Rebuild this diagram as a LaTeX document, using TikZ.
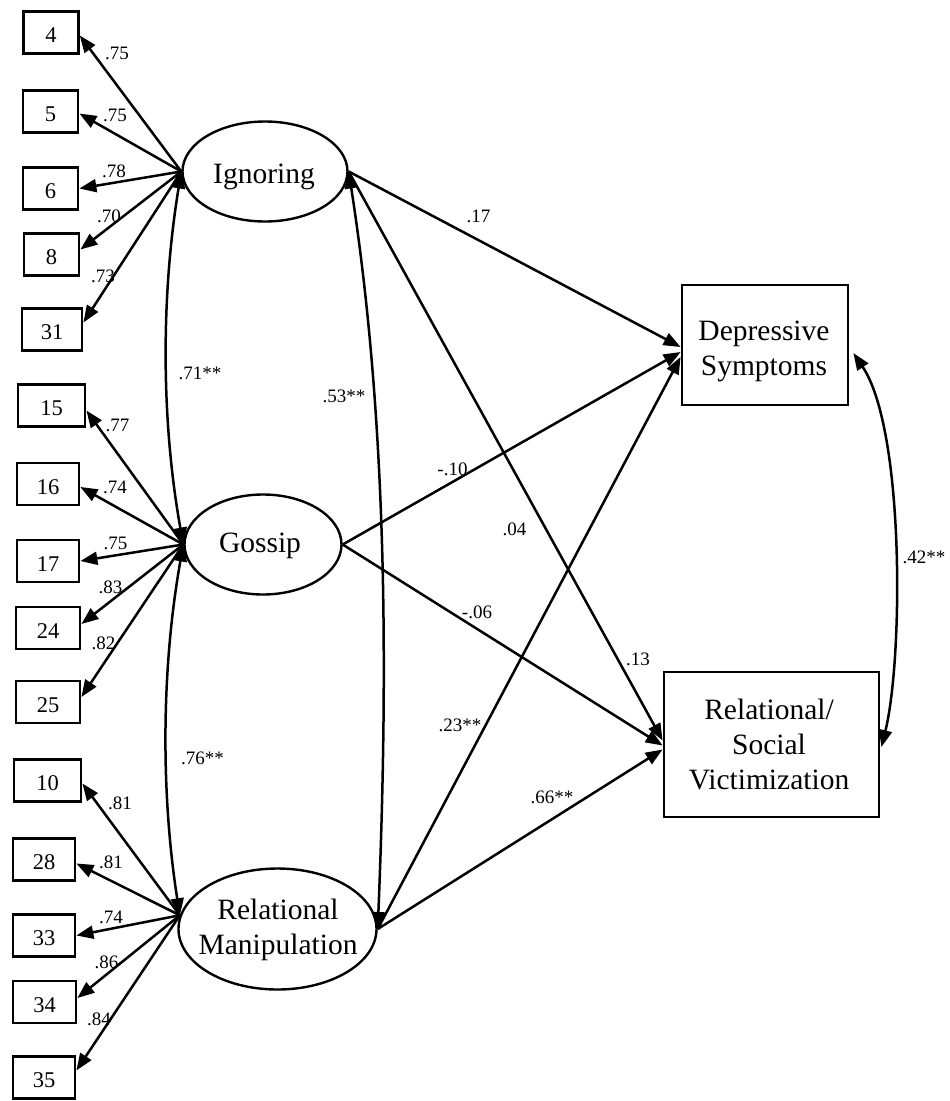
\documentclass[tikz,border=0pt]{standalone}
\usepackage{fontspec}
\setmainfont{Liberation Serif}
\usetikzlibrary{arrows.meta,shapes.geometric,calc}

\tikzset{
  ind/.style={draw, rectangle, line width=2.8pt, inner sep=0pt, minimum height=42pt,
    font=\fontsize{22.5}{26}\selectfont, text height=20pt, text depth=0pt},
  lat/.style={draw, ellipse, line width=2.4pt, inner sep=0pt},
  obs/.style={draw, rectangle, line width=2.8pt, inner sep=0pt},
  big/.style={font=\fontsize{29.5}{35}\selectfont, align=center, inner sep=0pt},
  coef/.style={font=\fontsize{19}{22}\selectfont, inner sep=0pt},
  path/.style={line width=2.5pt, -{Triangle[length=17pt,width=13pt]}},
  cov/.style={line width=2.5pt, {Triangle[length=17pt,width=13pt]}-{Triangle[length=17pt,width=13pt]}},
}

\begin{document}
\begin{tikzpicture}[x=1pt,y=-1pt]
\fill[white] (0,0) rectangle (950,1101);
\useasboundingbox (0,0) rectangle (950,1101);

% latent factors
\node[lat, minimum width=165pt, minimum height=100pt] (ign) at (265,171.5) {};
\node[lat, minimum width=157pt, minimum height=100pt] (goss) at (263,544.5) {};
\node[lat, minimum width=198pt, minimum height=121pt] (rm) at (277.5,929) {};
\node[big, anchor=base] (ign-t) at (264,183) {Ignoring};
\node[big, anchor=base] (goss-t) at (260,552) {Gossip};
\node[big] (rm-t) at (278,929.5) {Relational\\Manipulation};

% outcomes
\node[obs, minimum width=166pt, minimum height=120pt] (ds) at (765,345) {};
\node[obs, minimum width=215pt, minimum height=145pt] (rsv) at (771.5,744.5) {};
\node[big] (ds-t) at (764,351) {Depressive\\Symptoms};
\node[big] (rsv-t) at (769,744) {Relational/\\Social\\Victimization};

% indicator items
\foreach \n/\x/\y/\w in {4/50.9/32.5/55, 5/50.5/111.5/55, 6/50.5/188.5/55, 8/51.5/254.5/55,
    31/52/329.5/60, 15/51.5/405.5/67, 16/48/484/62, 17/48/561/62, 24/48/628/64,
    25/48/702/64, 10/47.5/780.5/67, 28/44/859.5/62, 33/44/935.5/62, 34/44.5/1002/63,
    35/44/1077.5/62}
  \node[ind, minimum width=\w pt] (b\n) at (\x,\y) {\n};

% loadings
\foreach \n/\d in {4/3, 5/2, 6/0, 8/-5, 31/-7}
  \draw[path] (ign.west) -- ($(b\n.east)+(0,\d)$);
\foreach \n/\d in {15/5, 16/3, 17/0, 24/-4, 25/-5}
  \draw[path] (goss.west) -- ($(b\n.east)+(0,\d)$);
\foreach \n/\d in {10/3, 28/4, 33/0, 34/-4, 35/-7}
  \draw[path] (rm.172) -- ($(b\n.east)+(0,\d)$);

% factor correlations
\draw[cov] (ign.west) .. controls (161,295) and (161,420) .. (goss.west);
\draw[cov] (goss.west) .. controls (161,670) and (161,795) .. (rm.172);
\draw[cov] (ign.east) .. controls (388,425) and (388,677) .. (rm.east);

% structural paths
\draw[path] (ign.east) -- ($(ds.west)+(0,2)$);
\draw[path] (goss.east) -- ($(ds.west)+(0,7)$);
\draw[path] (rm.east) -- ($(ds.west)+(0,12)$);
\draw[path] (ign.east) -- ($(rsv.west)+(0,-4)$);
\draw[path] (goss.east) -- ($(rsv.west)+(0,1)$);
\draw[path] (rm.east) -- ($(rsv.west)+(0,5)$);

% residual correlation of outcomes
\draw[cov] ($(ds.east)+(4,8)$) .. controls (905,430) and (903,660) .. ($(rsv.east)+(1,2.5)$);

% loading labels
\node[coef] (l4) at (117,53.5) {.75};
\node[coef] (l5) at (115,115) {.75};
\node[coef] (l6) at (114,171.5) {.78};
\node[coef] (l8) at (109,216.5) {.70};
\node[coef] (l31) at (103,276.5) {.73};
\node[coef] (l15) at (117.5,425.5) {.77};
\node[coef] (l16) at (115,487) {.74};
\node[coef] (l17) at (115.5,543) {.75};
\node[coef] (l24) at (110.5,587.5) {.83};
\node[coef] (l25) at (103.5,643.5) {.82};
\node[coef] (l10) at (120,803) {.81};
\node[coef] (l28) at (111,862) {.81};
\node[coef] (l33) at (111,917) {.74};
\node[coef] (l34) at (106.5,962) {.86};
\node[coef] (l35) at (99,1019.5) {.84};

% correlation and path labels
\node[coef] (c-ig) at (200,373) {.71**};
\node[coef] (c-ir) at (344,396) {.53**};
\node[coef] (c-gr) at (202.5,758.5) {.76**};
\node[coef] (c-dr) at (924,557) {.42**};
\node[coef] (p-id) at (478.5,216.5) {.17};
\node[coef] (p-gd) at (452.5,469.5) {-.10};
\node[coef] (p-04) at (514.5,529.5) {.04};
\node[coef] (p-gv) at (477,612.5) {-.06};
\node[coef] (p-iv) at (638,659.5) {.13};
\node[coef] (p-rd) at (460,725) {.23**};
\node[coef] (p-rv) at (552,797.5) {.66**};
\end{tikzpicture}
\end{document}
